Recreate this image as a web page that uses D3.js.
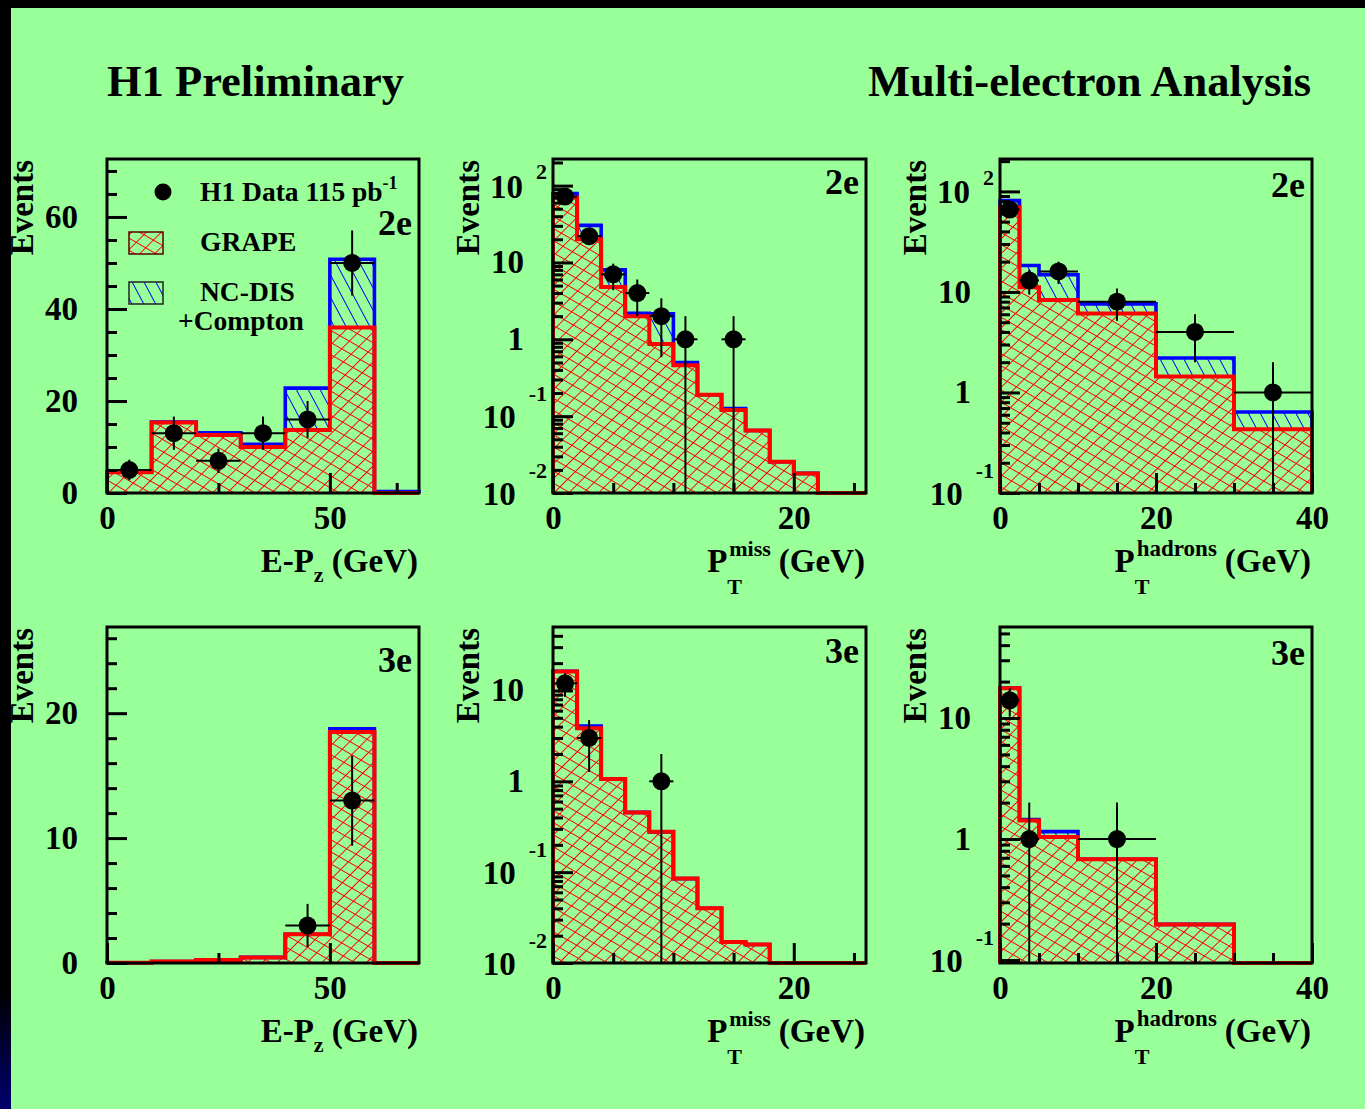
<!DOCTYPE html>
<html><head><meta charset="utf-8">
<script src="https://cdn.jsdelivr.net/npm/d3@7"></script>
<style>
html,body{margin:0;padding:0;background:#99ff99;}
svg{display:block;}
text{font-family:"Liberation Serif","Times New Roman",serif;font-weight:bold;fill:#000;}
</style>
</head><body>
<svg id="c" width="1365" height="1109"></svg>
<script>
// ================= DATA =================
// bin edges
const epzEdges = [0,10,20,30,40,50,60,70];
const ptmEdges = [0,2,4,6,8,10,12,14,16,18,20,22,24,26];
const pthEdges = [0,2.5,5,10,20,30,40];

// 2e, E-Pz
const epz2eGrape = [4.5,15.3,12.6,10.0,13.7,36.0,0];
const epz2eTotal = [4.6,15.4,13.1,10.6,22.8,50.8,0.3];
const epz2eData  = [5,13,7,13,16,50,null];
// 2e, PT miss
const ptm2eGrape = [70,20,4.8,2.0,0.87,0.46,0.19,0.12,0.065,0.0255,0.018,0,0];
const ptm2eTotal = [79,30.4,8.0,2.18,2.15,0.50,0.19,0.126,0.065,0.0255,0.018,0,0];
const ptm2eData  = [72,22,7,4,2,1,null,1,null,null,null,null,null];
// 2e, PT hadrons
const pth2eGrape = [69.6,11.1,8.3,6.1,1.44,0.43];
const pth2eTotal = [81,18.3,14.8,7.6,2.2,0.64];
const pth2eData  = [66,13,16,8,4,1];
// 3e, E-Pz
const epz3eGrape = [0.02,0.12,0.25,0.45,2.3,18.5,0];
const epz3eTotal = [0.02,0.12,0.25,0.45,2.3,18.75,0];
const epz3eData  = [null,null,null,null,3,13,null];
// 3e, PT miss
const ptm3eGrape = [16.2,3.84,1.06,0.455,0.278,0.085,0.040,0.017,0.016,0,0,0,0];
const ptm3eTotal = [16.3,4.07,1.06,0.455,0.278,0.085,0.040,0.017,0.016,0,0,0,0];
const ptm3eData  = [12,3,null,null,1,null,null,null,null,null,null,null,null];
// 3e, PT hadrons
const pth3eGrape = [17.6,1.42,1.04,0.68,0.197,0];
const pth3eTotal = [17.7,1.45,1.15,0.68,0.197,0];
const pth3eData  = [14,1,null,1,null,null];

// tick values
const xTicksEpz = [0,50],  xMinorEpz2e = [25,65], xMinorEpz3e = [25];
const xTicksPtm = [0,20],  xMinorPtm = [5,10,15,25];
const xTicksPth = [0,20,40], xMinorPth = [5,10,15,25,30,35];
const yTicksEpz2e = [0,20,40,60], yTicksEpz3e = [0,10,20];
const yTicksPtm2e = [0.01,0.1,1,10,100];
const yTicksPth2e = [0.1,1,10,100];
const yTicksPtm3e = [0.01,0.1,1,10];
const yTicksPth3e = [0.1,1,10];

// texts
const titleLeft = "H1 Preliminary";
const titleRight = "Multi-electron Analysis";
const legendLabels = ["H1 Data 115 pb", "GRAPE", "NC-DIS", "+Compton"];

// ================= DRAWING =================
const W=1365, H=1109, BG="#99ff99";
const svg = d3.select("#c");
const defs = svg.append("defs");

svg.append("rect").attr("width",W).attr("height",H).attr("fill",BG);
const lg = defs.append("linearGradient").attr("id","lband").attr("gradientUnits","userSpaceOnUse")
  .attr("x1",0).attr("y1",990).attr("x2",0).attr("y2",H);
lg.append("stop").attr("offset",0).attr("stop-color","#000");
lg.append("stop").attr("offset",1).attr("stop-color","#00006e");
svg.append("rect").attr("x",0).attr("y",0).attr("width",11).attr("height",H).attr("fill","url(#lband)");
svg.append("rect").attr("x",0).attr("y",0).attr("width",W).attr("height",8).attr("fill","#000");

function hatch(id, angle, spacing, color, width){
  const p = defs.append("pattern").attr("id",id).attr("patternUnits","userSpaceOnUse")
    .attr("width",spacing).attr("height",spacing).attr("patternTransform",`rotate(${angle})`);
  p.append("line").attr("x1",spacing/2).attr("y1",-1).attr("x2",spacing/2).attr("y2",spacing+1)
    .attr("stroke",color).attr("stroke-width",width);
}
hatch("redA",45,10.5,"#ff0000",1);
hatch("redB",-60,10.5,"#ff0000",1);
hatch("blueA",-28,10.5,"#0000ff",1);

svg.append("text").attr("x",107).attr("y",96).attr("font-size",44.5).text(titleLeft);
svg.append("text").attr("x",1311).attr("y",96).attr("font-size",44.5).attr("text-anchor","end").text(titleRight);

const panels = [
 {x0:107,y0:159,w:312,h:334,edges:epzEdges,grape:epz2eGrape,total:epz2eTotal,data:epz2eData,
  xd:[0,70],log:false,yd:[0,72.6],yT:yTicksEpz2e,yMinorStep:5,xT:xTicksEpz,xM:xMinorEpz2e,tag:"2e",tagY:235,xt:"epz",legend:true},
 {x0:553,y0:159,w:313,h:334,edges:ptmEdges,grape:ptm2eGrape,total:ptm2eTotal,data:ptm2eData,
  xd:[0,26],log:true,yd:[0.01,222],yT:yTicksPtm2e,xT:xTicksPtm,xM:xMinorPtm,tag:"2e",tagY:194,xt:"miss"},
 {x0:1000,y0:159,w:312,h:334,edges:pthEdges,grape:pth2eGrape,total:pth2eTotal,data:pth2eData,
  xd:[0,40],log:true,yd:[0.1,210],yT:yTicksPth2e,xT:xTicksPth,xM:xMinorPth,tag:"2e",tagY:197,xt:"hadrons"},
 {x0:107,y0:627,w:312,h:336,edges:epzEdges,grape:epz3eGrape,total:epz3eTotal,data:epz3eData,
  xd:[0,70],log:false,yd:[0,26.9],yT:yTicksEpz3e,yMinorStep:2,xT:xTicksEpz,xM:xMinorEpz3e,tag:"3e",tagY:672,xt:"epz"},
 {x0:553,y0:627,w:313,h:336,edges:ptmEdges,grape:ptm3eGrape,total:ptm3eTotal,data:ptm3eData,
  xd:[0,26],log:true,yd:[0.01,50],yT:yTicksPtm3e,xT:xTicksPtm,xM:xMinorPtm,tag:"3e",tagY:663,xt:"miss"},
 {x0:1000,y0:627,w:312,h:336,edges:pthEdges,grape:pth3eGrape,total:pth3eTotal,data:pth3eData,
  xd:[0,40],log:true,yd:[0.0945,56.5],yT:yTicksPth3e,xT:xTicksPth,xM:xMinorPth,tag:"3e",tagY:665,xt:"hadrons"}
];

function styleAxis(g){
  g.select(".domain").remove();
  g.selectAll("line").attr("stroke","#000").attr("stroke-width",3);
  g.selectAll("text").attr("font-size",33).attr("font-family","Liberation Serif, serif")
    .attr("font-weight","bold").attr("fill","#000");
}

panels.forEach(p => {
  const g = svg.append("g");
  const x = d3.scaleLinear().domain(p.xd).range([p.x0, p.x0+p.w]);
  const y = (p.log ? d3.scaleLog() : d3.scaleLinear()).domain(p.yd).range([p.y0+p.h, p.y0]);
  const yb = p.y0+p.h;
  const yv = v => (v>0 && v>=p.yd[0]) ? Math.min(y(v), yb) : yb;

  function outline(vals){
    let d = `M${x(p.edges[0])},${yb}`;
    vals.forEach((v,i)=>{ d += `L${x(p.edges[i])},${yv(v)}L${x(p.edges[i+1])},${yv(v)}`; });
    d += `L${x(p.edges[p.edges.length-1])},${yb}`;
    return d;
  }
  const area = vals => outline(vals) + "Z";
  // total (NC-DIS + Compton on top of GRAPE)
  const ta = area(p.total);
  g.append("path").attr("d",ta).attr("fill",BG);
  g.append("path").attr("d",ta).attr("fill","url(#blueA)");
  const ga = area(p.grape);
  g.append("path").attr("d",ga).attr("fill",BG);
  g.append("path").attr("d",ga).attr("fill","url(#redA)");
  g.append("path").attr("d",ga).attr("fill","url(#redB)");
  g.append("path").attr("d",outline(p.total)).attr("fill","none").attr("stroke","#0000ff").attr("stroke-width",3.6);
  g.append("path").attr("d",outline(p.grape)).attr("fill","none").attr("stroke","#ff0000").attr("stroke-width",4);

  // x axis
  const gx = g.append("g").attr("transform",`translate(0,${yb})`)
    .call(d3.axisBottom(x).tickValues(p.xT).tickSize(-20).tickPadding(13).tickFormat(d3.format("d")));
  styleAxis(gx);
  const gxm = g.append("g").attr("transform",`translate(0,${yb})`)
    .call(d3.axisBottom(x).tickValues(p.xM).tickSize(-10).tickFormat(""));
  styleAxis(gxm);

  // y axis
  let minor = [];
  if (!p.log){
    for (let v = p.yMinorStep; v <= p.yd[1]; v += p.yMinorStep) if (!p.yT.includes(v)) minor.push(v);
    const gy = g.append("g").attr("transform",`translate(${p.x0},0)`)
      .call(d3.axisLeft(y).tickValues(p.yT).tickSize(-20).tickPadding(29).tickFormat(d3.format("d")));
    styleAxis(gy);
  } else {
    const e0 = Math.floor(Math.log10(p.yd[0])), e1 = Math.ceil(Math.log10(p.yd[1]));
    for (let e=e0; e<=e1; e++) for (let k=2;k<=9;k++){ const v=k*Math.pow(10,e); if (v>p.yd[0]*1.001 && v<p.yd[1]) minor.push(v); }
    const gy = g.append("g").attr("transform",`translate(${p.x0},0)`)
      .call(d3.axisLeft(y).tickValues(p.yT).tickSize(-20).tickFormat(""));
    styleAxis(gy);
    p.yT.forEach(v => {
      const ty = y(v), e = Math.round(Math.log10(v));
      if (e===0 || e===1){
        g.append("text").attr("x",p.x0-29).attr("y",ty+11).attr("text-anchor","end").attr("font-size",33).text(e===0?"1":"10");
      } else {
        const ex = g.append("text").attr("x",p.x0-6).attr("y",ty+(e<0?-15.5:-6.5)).attr("text-anchor","end").attr("font-size",22).text(String(e));
        const ew = ex.node().getComputedTextLength();
        g.append("text").attr("x",p.x0-6-ew-13).attr("y",ty+12).attr("text-anchor","end").attr("font-size",33).text("10");
      }
    });
  }
  const gym = g.append("g").attr("transform",`translate(${p.x0},0)`)
    .call(d3.axisLeft(y).tickValues(minor).tickSize(-10).tickFormat(""));
  styleAxis(gym);

  // frame
  g.append("rect").attr("x",p.x0).attr("y",p.y0).attr("width",p.w).attr("height",p.h)
    .attr("fill","none").attr("stroke","#000").attr("stroke-width",3);

  // data points
  p.data.forEach((v,i) => {
    if (v==null) return;
    const xc = x((p.edges[i]+p.edges[i+1])/2), err = Math.sqrt(v), yc = y(v);
    const yTop = y(v+err), yBot = yv(v-err);
    g.append("line").attr("x1",xc).attr("x2",xc).attr("y1",yTop).attr("y2",yBot).attr("stroke","#000").attr("stroke-width",2);
    g.append("line").attr("x1",x(p.edges[i])).attr("x2",x(p.edges[i+1])).attr("y1",yc).attr("y2",yc).attr("stroke","#000").attr("stroke-width",2);
    g.append("circle").attr("cx",xc).attr("cy",yc).attr("r",9).attr("fill","#000");
  });

  // tag
  g.append("text").attr("x",p.x0+p.w-7).attr("y",p.tagY).attr("text-anchor","end").attr("font-size",36).text(p.tag);

  // Events
  g.append("text").attr("transform",`translate(${p.x0-74},${p.y0+1}) rotate(-90)`).attr("text-anchor","end")
    .attr("font-size",33).text("Events");

  // x title
  const right = p.x0+p.w-1, base = yb+79;
  if (p.xt==="epz"){
    const t = g.append("text").attr("x",right).attr("y",base).attr("text-anchor","end").attr("font-size",33);
    t.append("tspan").text("E-P");
    t.append("tspan").attr("dy",10).attr("font-size",22).text("z");
    t.append("tspan").attr("dy",-10).text(" (GeV)");
  } else {
    const gev = g.append("text").attr("x",right).attr("y",base).attr("text-anchor","end").attr("font-size",33).text("(GeV)");
    const gw = gev.node().getComputedTextLength();
    const supEnd = right - gw - 8;
    const sup = g.append("text").attr("x",supEnd).attr("y",base-16).attr("text-anchor","end")
      .attr("font-size", p.xt==="hadrons" ? 23 : 22).text(p.xt);
    const sw = sup.node().getComputedTextLength();
    const pEnd = supEnd - sw - 2;
    g.append("text").attr("x",pEnd).attr("y",base).attr("text-anchor","end").attr("font-size",33).text("P");
    g.append("text").attr("x",pEnd).attr("y",base+22).attr("text-anchor","start").attr("font-size",22).text("T");
  }

  // legend
  if (p.legend){
    g.append("circle").attr("cx",163).attr("cy",192).attr("r",8.5).attr("fill","#000");
    const t = g.append("text").attr("x",200).attr("y",201).attr("font-size",27.5);
    t.append("tspan").text(legendLabels[0]);
    t.append("tspan").attr("dy",-12).attr("font-size",18).text("-1");
    const b1 = [129,232,34,22], b2 = [129,282,34,22];
    g.append("rect").attr("x",b1[0]).attr("y",b1[1]).attr("width",b1[2]).attr("height",b1[3]).attr("fill",BG);
    g.append("rect").attr("x",b1[0]).attr("y",b1[1]).attr("width",b1[2]).attr("height",b1[3]).attr("fill","url(#redA)");
    g.append("rect").attr("x",b1[0]).attr("y",b1[1]).attr("width",b1[2]).attr("height",b1[3]).attr("fill","url(#redB)")
      .attr("stroke","#5a0000").attr("stroke-width",1.5);
    g.append("rect").attr("x",b2[0]).attr("y",b2[1]).attr("width",b2[2]).attr("height",b2[3]).attr("fill",BG);
    g.append("rect").attr("x",b2[0]).attr("y",b2[1]).attr("width",b2[2]).attr("height",b2[3]).attr("fill","url(#blueA)")
      .attr("stroke","#222").attr("stroke-width",1.5);
    g.append("text").attr("x",200).attr("y",251).attr("font-size",27.5).text(legendLabels[1]);
    g.append("text").attr("x",200).attr("y",301).attr("font-size",27.5).text(legendLabels[2]);
    g.append("text").attr("x",178).attr("y",330).attr("font-size",27.5).text(legendLabels[3]);
  }
});
</script>
</body></html>
